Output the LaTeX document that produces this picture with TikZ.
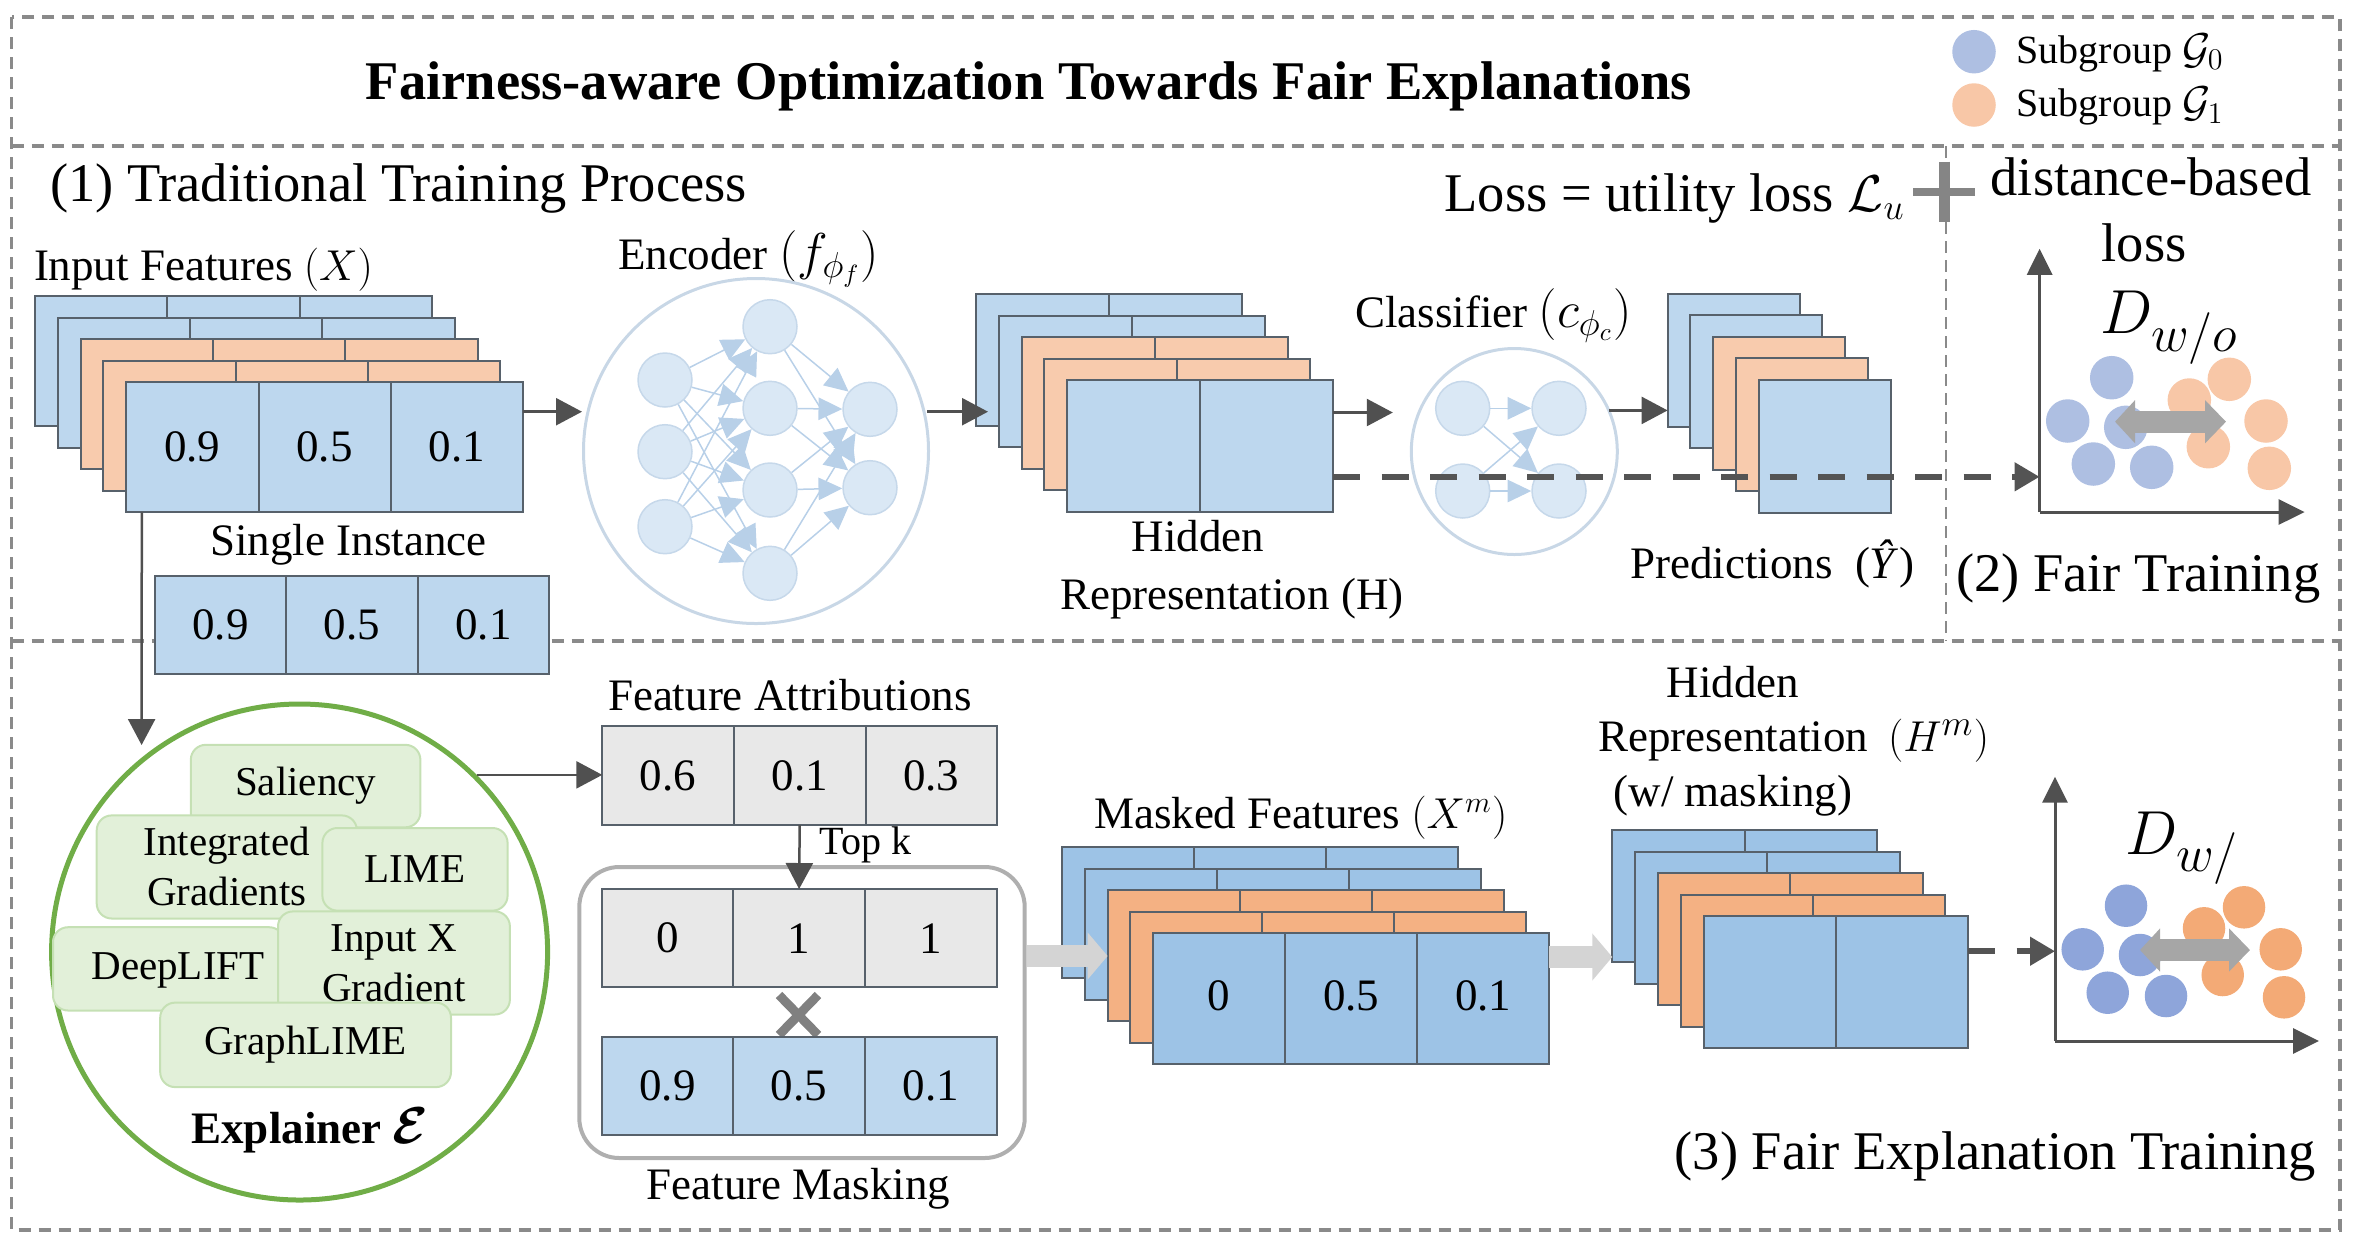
\documentclass[tikz,border=0pt]{standalone}
\usepackage{amsmath}
\usepackage{fontspec}
\setmainfont{Liberation Serif}
\usetikzlibrary{arrows.meta,calc}

\definecolor{lblue}{HTML}{BDD7EE}
\definecolor{lorange}{HTML}{F8CBAD}
\definecolor{mblue}{HTML}{9DC3E6}
\definecolor{morange}{HTML}{F4B183}
\definecolor{cellline}{HTML}{57616B}
\definecolor{darkarrow}{HTML}{505050}
\definecolor{dashline}{HTML}{545454}
\definecolor{nnfill}{HTML}{DAE8F5}
\definecolor{nnline}{HTML}{C6D8EA}
\definecolor{nnedge}{HTML}{B8D0E8}
\definecolor{nnring}{HTML}{C8D7E6}
\definecolor{grayfill}{HTML}{E8E8E8}
\definecolor{greenfill}{HTML}{E2F0D9}
\definecolor{greenline}{HTML}{C5E0B4}
\definecolor{greenring}{HTML}{70AD47}
\definecolor{framegray}{HTML}{8A8A8A}
\definecolor{maskgray}{HTML}{AFAFAF}
\definecolor{xgray}{HTML}{808080}
\definecolor{plusgray}{HTML}{858585}
\definecolor{blockgray}{HTML}{D4D4D4}
\definecolor{dblgray}{HTML}{A6A6A6}
\definecolor{dotblueA}{HTML}{AEBFE2}
\definecolor{dotorangeA}{HTML}{F8C7A7}
\definecolor{dotblueB}{HTML}{8EA5DA}
\definecolor{dotorangeB}{HTML}{F3AA76}

\newcommand{\setfs}[2]{\fontsize{#1pt}{#2pt}\selectfont}

\newcommand{\mkstack}[8]{%
  \foreach \i/\lc in {1/#7,2/#7,3/#8,4/#8,5/#7}{%
    \node[layer, fill=\lc, minimum width=#4*0.4pt, minimum height=#5*0.4pt] (#1\i) at ({#2+(\i-1)*22.8},{#3+(\i-1)*21.6}) {};
    \foreach \f in {#6}{%
      \draw[draw=cellline, line width=0.8pt] ($(#1\i.north west)!\f!(#1\i.north east)$) -- ($(#1\i.south west)!\f!(#1\i.south east)$);
    }%
  }%
}

\begin{document}
\begin{tikzpicture}[x=0.4pt,y=-0.4pt,
  layer/.style={draw=cellline, line width=0.8pt, anchor=north west, inner sep=0pt, outer sep=0pt},
  cellbox/.style={draw=cellline, line width=0.8pt, anchor=north west, inner sep=0pt, outer sep=0pt, minimum width=131.6*0.4pt, minimum height=98.3*0.4pt, font=\setfs{18}{21}},
  lbl/.style={inner sep=0pt, outer sep=0pt, font=\setfs{18}{21}},
  biglbl/.style={inner sep=0pt, outer sep=0pt, font=\setfs{21.8}{26}},
  frame/.style={draw=framegray, line width=1.3pt, dash pattern=on 4.8pt off 3.2pt},
  vdash/.style={draw=framegray, line width=0.8pt, dash pattern=on 4.8pt off 2.8pt},
  darr/.style={draw=darkarrow, line width=1pt, -{Triangle[length=10.4pt,width=10.8pt]}},
  dasharr/.style={draw=dashline, line width=2.4pt, dash pattern=on 10.8pt off 8.6pt, -{Triangle[length=10pt,width=11pt]}},
  blockarr/.style={draw=blockgray, line width=8.8pt, -{Triangle[length=8pt,width=18.4pt]}},
  axisarr/.style={draw=darkarrow, line width=1.2pt, -{Triangle[length=10.4pt,width=10pt]}},
  dblarr/.style={draw=dblgray, line width=8.8pt, {Triangle[length=8pt,width=16.8pt]}-{Triangle[length=8.4pt,width=16.8pt]}},
  nn/.style={circle, fill=nnfill, draw=nnline, line width=0.6pt, minimum size=21.6pt, inner sep=0pt},
  nnarr/.style={draw=nnedge, line width=0.6pt, -{Triangle[length=9.5pt,width=9pt]}},
  gbox/.style={anchor=north west, draw=greenline, fill=greenfill, line width=0.8pt, rounded corners=6pt, inner sep=0pt, align=center, font=\setfs{16.4}{20}}
]
\useasboundingbox (0,0) rectangle (2365,1242);

% ---------- frame ----------
\draw[frame] (11.5,17) rectangle (2340,1230);
\draw[frame] (11.5,146) -- (2340,146);
\draw[frame] (11.5,641) -- (2340,641);
\draw[vdash] (1946,146) -- (1946,641);

% ---------- title & legend ----------
\node[anchor=base, inner sep=0pt, font=\setfs{21.8}{26}\bfseries] (title) at (1029,99.5) {Fairness-aware Optimization Towards Fair Explanations};
\fill[dotblueA] (1974,51.7) circle (8.7pt);
\fill[dotorangeA] (1974,105) circle (8.7pt);
\node[anchor=base west, inner sep=0pt, font=\setfs{16}{18}] (lg0) at (2016,63.3) {Subgroup {\setfs{18.5}{20}$\mathcal{G}_0$}};
\node[anchor=base west, inner sep=0pt, font=\setfs{16}{18}] (lg1) at (2016,116.7) {Subgroup {\setfs{18.5}{20}$\mathcal{G}_1$}};

% ---------- section 1 ----------
\node[biglbl, anchor=base west] (sec1) at (50,201) {(1) Traditional Training Process};
\node[biglbl, anchor=base west] (loss) at (1444.5,211.4) {Loss = utility loss $\mathcal{L}_u$};
\draw[plusgray, line width=3.4pt] (1913,192) -- (1975,192);
\draw[plusgray, line width=4.4pt] (1944,161.7) -- (1944,221.8);
\node[biglbl, anchor=base west] (dist) at (1990.7,195) {distance-based};
\node[biglbl, anchor=base] (dloss) at (2144,261) {loss};

\node[lbl, anchor=base west] (inlab) at (34,280) {Input Features {\setfs{18.5}{21}$(X)$}};
\mkstack{in}{35}{296}{397}{130}{1/3,2/3}{lblue}{lorange}
\node[lbl, anchor=base] (in5a) at (192.2,461) {0.9};
\node[lbl, anchor=base] (in5b) at (324.5,461) {0.5};
\node[lbl, anchor=base] (in5c) at (456.8,461) {0.1};

\node[lbl, anchor=base] (silab) at (348.5,555.6) {Single Instance};

% encoder
\node[lbl, anchor=base west] (enclab) at (618,269.5) {Encoder {\setfs{20}{22}$(f_{\phi_f})$}};
\node[circle, draw=nnring, line width=1.2pt, minimum size=138pt, inner sep=0pt] (enc) at (756,451) {};
\foreach \n/\x/\y in {e11/665/380, e12/665/451.7, e13/665/526.7, e21/770/326.7, e22/770/408.3, e23/770/490, e24/770/573.3, e31/870/409.3, e32/870/487.7}
  \node[nn] (\n) at (\x,\y) {};
\foreach \a in {e11,e12,e13}
  \foreach \b in {e21,e22,e23,e24}
    \draw[nnarr] (\a) -- (\b);
\foreach \a in {e21,e22,e23,e24}
  \foreach \b in {e31,e32}
    \draw[nnarr] (\a) -- (\b);

% hidden representation
\mkstack{hid}{976}{294}{266}{131.5}{1/2}{lblue}{lorange}
\node[lbl, anchor=base] (hidlab) at (1198,551.4) {Hidden};
\node[lbl, anchor=base west] (replab) at (1060,609.5) {Representation (H)};

% classifier
\node[lbl, anchor=base west] (clslab) at (1355,327.5) {Classifier {\setfs{20}{22}$(c_{\phi_c})$}};
\node[circle, draw=nnring, line width=1.2pt, minimum size=82.4pt, inner sep=0pt] (cls) at (1514.3,451.5) {};
\foreach \n/\x/\y in {c11/1462.7/408.3, c12/1462.7/491, c21/1559/408.3, c22/1559/491}
  \node[nn] (\n) at (\x,\y) {};
\foreach \a in {c11,c12}
  \foreach \b in {c21,c22}
    \draw[nnarr] (\a) -- (\b);

% predictions
\mkstack{pred}{1667.6}{293.5}{132}{133}{0}{lblue}{lorange}
\node[lbl, anchor=base west] (predlab) at (1630,578) {Predictions\ \ (\textit{Ŷ})};

% arrows section 1
\coordinate (r1) at (0,411.7);
\draw[darr] (in5.east |- r1) -- (enc.west |- r1);
\draw[darr] ($(enc.east |- r1)+(-3,0)$) -- ($(hid1.west |- r1)+(12,0)$);
\draw[darr] (hid5.east |- 0,412.5) -- ($(cls.west |- 0,412.5)+(-17,0)$);
\draw[darr] ($(cls.east |- 0,410.4)+(-10,0)$) -- (pred1.west |- 0,410.4);

% chart 2
\coordinate (o2) at (2039.6,512);
\node[anchor=base west, inner sep=0pt, font=\setfs{24}{28}] (dwo) at (2100,333.7) {$D_{\mbox{\setfs{20}{22}$w/o$}}$};
\foreach \x/\y in {2111.7/377.7, 2067.7/421, 2125.7/427.3, 2093.3/464, 2151.7/467.3}
  \fill[dotblueA] (\x,\y) circle (8.7pt);
\foreach \x/\y in {2189.3/400, 2229.3/379.3, 2266/421, 2208.3/446.7, 2269.3/468.3}
  \fill[dotorangeA] (\x,\y) circle (8.7pt);
\draw[dblarr] (2115,421.7) -- (2226,421.7);
\draw[dasharr] (hid5.east |- 0,476.8) -- (o2 |- 0,476.8);
\draw[axisarr] (o2) -- (2039.6,248.8);
\draw[axisarr] (o2) -- (2304.6,512);
\node[biglbl, anchor=base west] (sec2) at (1956,591) {(2) Fair Training};

% ---------- section 3 ----------
\node[cellbox, fill=lblue] (si1) at (154.6,575.5) {0.9};
\node[cellbox, fill=lblue] (si2) at (286.2,575.5) {0.5};
\node[cellbox, fill=lblue] (si3) at (417.8,575.5) {0.1};

% explainer
\node[circle, draw=greenring, line width=2pt, minimum size=198.4pt, inner sep=0pt] (expl) at (299.6,952) {};
\node[gbox, minimum width=229.6*0.4pt, minimum height=82.5*0.4pt] (sal) at (189.8,743.8) {Saliency};
\node[gbox, minimum width=260.2*0.4pt, minimum height=103.1*0.4pt] (ig) at (95.7,814.4) {Integrated\\Gradients};
\node[gbox, minimum width=185.2*0.4pt, minimum height=82.6*0.4pt] (lime) at (321.4,827) {LIME};
\node[gbox, minimum width=231.2*0.4pt, minimum height=83.3*0.4pt] (dl) at (52,926.2) {};
\node[anchor=base, inner sep=0pt, font=\setfs{16.4}{20}] (dltext) at (178,979) {DeepLIFT};
\node[gbox, minimum width=231.9*0.4pt, minimum height=103.1*0.4pt] (ixg) at (277,910.4) {Input X\\Gradient};
\node[gbox, minimum width=290.8*0.4pt, minimum height=84.5*0.4pt] (glime) at (159.2,1001.6) {GraphLIME};
\node[anchor=base, inner sep=0pt, font=\setfs{18}{21}\bfseries] (expllab) at (310,1143.6) {Explainer {\setfs{20}{22}$\boldsymbol{\mathcal{E}}$}};

\coordinate (explin) at (141.6,745);
\draw[darr] ($(in5.south west)+(15.6,0)$) -- (explin);

% attributions
\node[lbl, anchor=base west] (falab) at (608,710.4) {Feature Attributions};
\node[cellbox, fill=grayfill, minimum height=98.7*0.4pt] (fa1) at (602.3,726.3) {0.6};
\node[cellbox, fill=grayfill, minimum height=98.7*0.4pt] (fa2) at (733.9,726.3) {0.1};
\node[cellbox, fill=grayfill, minimum height=98.7*0.4pt] (fa3) at (865.5,726.3) {0.3};
\draw[darr] (expl.45) -- (fa1.west |- expl.45);

% feature masking
\node[anchor=north west, draw=maskgray, line width=1.6pt, rounded corners=16pt, minimum width=445.4*0.4pt, minimum height=291*0.4pt, inner sep=0pt] (fm) at (577.3,865) {};
\node[cellbox, fill=grayfill] (mk1) at (601.7,889) {0};
\node[cellbox, fill=grayfill] (mk2) at (733.3,889) {1};
\node[cellbox, fill=grayfill] (mk3) at (864.9,889) {1};
\draw[xgray, line width=3.6pt] (779,995) -- (818,1035);
\draw[xgray, line width=3.6pt] (818,995) -- (779,1035);
\node[cellbox, fill=lblue] (fr1) at (601.7,1036.7) {0.9};
\node[cellbox, fill=lblue] (fr2) at (733.3,1036.7) {0.5};
\node[cellbox, fill=lblue] (fr3) at (864.9,1036.7) {0.1};
\draw[darr] (fa2.south) -- (mk2.north);
\node[anchor=base west, inner sep=0pt, font=\setfs{16}{19}] (topk) at (819,854) {Top k};
\node[lbl, anchor=base west] (fmlab) at (646.7,1199) {Feature Masking};

% masked features
\node[lbl, anchor=base west] (mflab) at (1094,828) {Masked Features {\setfs{18.5}{21}$(X^m)$}};
\mkstack{mf}{1062}{847}{396}{131}{1/3,2/3}{mblue}{morange}
\node[lbl, anchor=base] (mf5a) at (1219.2,1010) {0};
\node[lbl, anchor=base] (mf5b) at (1351.2,1010) {0.5};
\node[lbl, anchor=base] (mf5c) at (1483.2,1010) {0.1};
\draw[blockarr] (fm.east |- 0,956) -- (mf3.west |- 0,956);

% hidden representation (masked)
\node[lbl, anchor=base] (hm1lab) at (1733,697) {Hidden};
\node[lbl, anchor=base] (hm2lab) at (1733,751) {Representation};
\node[lbl, anchor=base] (hm3lab) at (1733,806.4) {(w/ masking)};
\node[lbl, anchor=base west] (hmlab) at (1888,751) {{\setfs{19}{21}$(H^m)$}};
\mkstack{hm}{1612.3}{830}{264.6}{132}{1/2}{mblue}{morange}
\draw[blockarr] (mf5.east |- 0,957) -- (hm1.west |- 0,957);

% chart 3
\coordinate (o3) at (2055,1041);
\node[anchor=base west, inner sep=0pt, font=\setfs{24}{28}] (dw) at (2125,854) {$D_{\mbox{\setfs{20}{22}$w/$}}$};
\foreach \x/\y in {2126/905.7, 2082.7/949.3, 2140/955, 2107.7/992.7, 2166/996}
  \fill[dotblueB] (\x,\y) circle (8.5pt);
\foreach \x/\y in {2204/928.3, 2244/907.3, 2280.7/949.3, 2222.7/975, 2284/997.3}
  \fill[dotorangeB] (\x,\y) circle (8.5pt);
\draw[dblarr] (2140,950) -- (2250,950);
\draw[dasharr] (hm5.east |- 0,951.2) -- (o3 |- 0,951.2);
\draw[axisarr] (o3) -- (2055,776.7);
\draw[axisarr] (o3) -- (2319,1041);
\node[biglbl, anchor=base west] (sec3) at (1674.7,1169.4) {(3) Fair Explanation Training};
\end{tikzpicture}
\end{document}
